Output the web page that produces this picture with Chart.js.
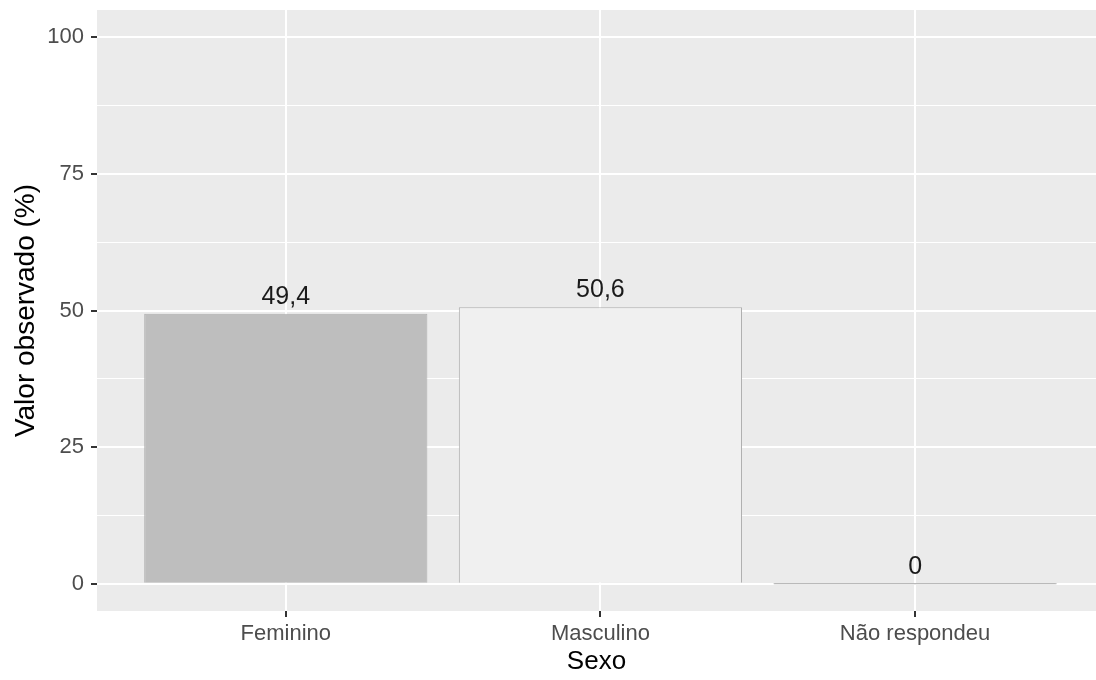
<!DOCTYPE html>
<html>
<head>
<meta charset="utf-8">
<script src="https://cdn.jsdelivr.net/npm/chart.js@4"></script>
<style>
  html, body { margin: 0; padding: 0; background: #fff; }
  #wrap { width: 1096px; height: 680px; }
</style>
</head>
<body>
<div id="wrap"><canvas id="sexoChart" width="1096" height="680"></canvas></div>
<script>
// dados do grafico
const categorias = ['Feminino', 'Masculino', 'Não respondeu'];
const valores = [49.4, 50.6, 0];
const rotulos = ['49,4', '50,6', '0'];
const yTicks = [0, 25, 50, 75, 100];
const yMinorTicks = [12.5, 37.5, 62.5, 87.5];
const coresBarra = ['#bebebe', '#f0f0f0', '#a8a8a8'];

const fonte = "'Liberation Sans', Arial, sans-serif";

// fundo do painel (estilo ggplot)
const painelPlugin = {
    id: 'painel',
    beforeDraw(chart) {
        const { ctx, chartArea } = chart;
        ctx.save();
        ctx.fillStyle = '#ffffff';
        ctx.fillRect(0, 0, chart.width, chart.height);
        ctx.fillStyle = '#ebebeb';
        ctx.fillRect(chartArea.left, chartArea.top, chartArea.right - chartArea.left, chartArea.bottom - chartArea.top);
        ctx.restore();
    }
};

// rotulos de valor acima das barras
const rotuloPlugin = {
    id: 'rotulos',
    afterDatasetsDraw(chart) {
        const { ctx } = chart;
        const meta = chart.getDatasetMeta(0);
        ctx.save();
        ctx.font = '25px ' + fonte;
        ctx.fillStyle = '#1a1a1a';
        ctx.textAlign = 'center';
        ctx.textBaseline = 'alphabetic';
        meta.data.forEach((bar, i) => {
            ctx.fillText(rotulos[i], bar.x, bar.y - 10);
        });
        ctx.restore();
    }
};

const ctx = document.getElementById('sexoChart').getContext('2d');
new Chart(ctx, {
    type: 'bar',
    data: {
        datasets: [{
            label: 'Valor observado (%)',
            data: valores.map((v, i) => ({ x: i + 1, y: v })),
            backgroundColor: coresBarra,
            borderColor: '#afafaf',
            borderWidth: 1,
            minBarLength: 1.5,
            categoryPercentage: 1,
            barPercentage: 0.9
        }]
    },
    options: {
        responsive: false,
        animation: false,
        layout: { padding: { top: 10, left: 0, right: 0, bottom: 0 } },
        plugins: {
            legend: { display: false },
            tooltip: { enabled: false }
        },
        scales: {
            x: {
                type: 'linear',
                offset: false,
                min: 0.4,
                max: 3.575,
                afterBuildTicks: scale => {
                    scale.ticks = categorias.map((c, i) => ({ value: i + 1 }));
                },
                afterFit: scale => {
                    scale.height = 69;
                    scale.paddingLeft = 0;
                    scale.paddingRight = 0;
                },
                ticks: {
                    callback: v => categorias[v - 1],
                    color: '#4d4d4d',
                    font: { family: fonte, size: 22 },
                    padding: 4,
                    maxRotation: 0,
                    autoSkip: false
                },
                grid: {
                    offset: false,
                    color: '#ffffff',
                    lineWidth: 2,
                    tickColor: '#333333',
                    tickLength: 6
                },
                border: { display: false },
                title: {
                    display: true,
                    text: 'Sexo',
                    color: '#000000',
                    font: { family: fonte, size: 26 },
                    padding: { top: 0, bottom: 3 }
                }
            },
            y: {
                min: -5,
                max: 105,
                afterBuildTicks: scale => {
                    scale.ticks = yTicks.concat(yMinorTicks).sort((a, b) => a - b).map(v => ({ value: v }));
                },
                afterFit: scale => {
                    scale.width = 97;
                    scale.paddingTop = 0;
                    scale.paddingBottom = 0;
                },
                ticks: {
                    callback: v => (yTicks.includes(v) ? String(v) : ''),
                    color: '#4d4d4d',
                    font: { family: fonte, size: 22 },
                    padding: 7,
                    autoSkip: false
                },
                grid: {
                    color: '#ffffff',
                    lineWidth: c => (yTicks.includes(c.tick.value) ? 2 : 1),
                    tickColor: c => (yTicks.includes(c.tick.value) ? '#333333' : 'rgba(0,0,0,0)'),
                    tickLength: 6
                },
                border: { display: false },
                title: {
                    display: true,
                    text: 'Valor observado (%)',
                    color: '#000000',
                    font: { family: fonte, size: 28 },
                    padding: { top: 9, bottom: 0 }
                }
            }
        }
    },
    plugins: [painelPlugin, rotuloPlugin]
});
</script>
</body>
</html>
